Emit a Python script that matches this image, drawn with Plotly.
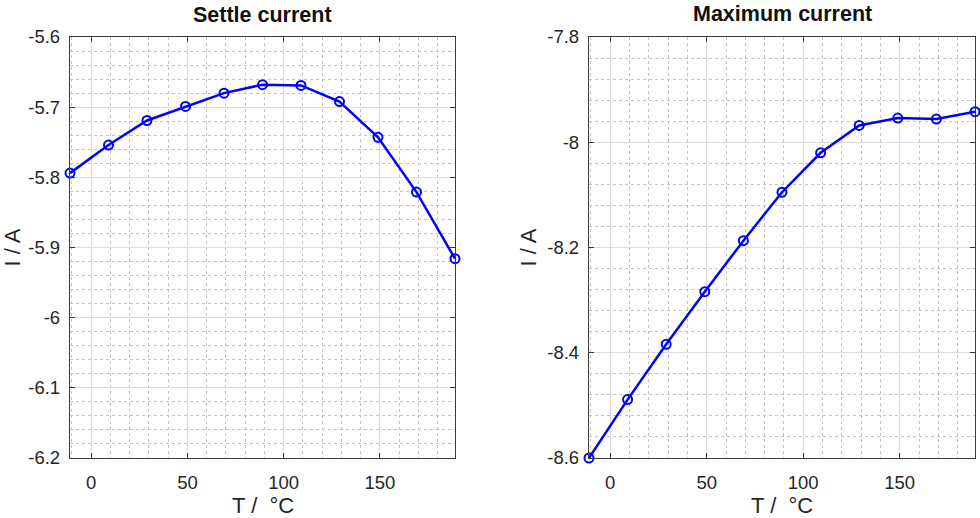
import plotly.graph_objects as go

# Temperature sweep (°C)
temperature = [-11, 9, 29, 49, 69, 89, 109, 129, 149, 169, 189]

# Currents in A
settle_current = [-5.794, -5.754, -5.719, -5.699, -5.680, -5.668, -5.669, -5.692, -5.743, -5.821, -5.916]
maximum_current = [-8.600, -8.489, -8.384, -8.284, -8.187, -8.095, -8.020, -7.968, -7.954, -7.956, -7.942]

x_ticks = [0, 50, 100, 150]
settle_ticks = [-5.6, -5.7, -5.8, -5.9, -6.0, -6.1, -6.2]
settle_labels = ["-5.6", "-5.7", "-5.8", "-5.9", "-6", "-6.1", "-6.2"]
max_ticks = [-7.8, -8.0, -8.2, -8.4, -8.6]
max_labels = ["-7.8", "-8", "-8.2", "-8.4", "-8.6"]

W, H = 980, 518
FONT = "Liberation Sans, Arial, sans-serif"
TXT = "#262626"
BLUE = "#0000ff"

LEFT_BOX = (70, 455)
RIGHT_BOX = (589, 975)
TOP, BOTTOM = 37, 458


def dom_x(box):
    return [box[0] / W, box[1] / W]


def dom_y(top, bottom):
    return [(H - bottom) / H, (H - top) / H]


fig = go.Figure()
for ys, xa, ya in [(settle_current, "x", "y"), (maximum_current, "x2", "y2")]:
    fig.add_trace(go.Scatter(
        x=temperature, y=ys, xaxis=xa, yaxis=ya, mode="lines+markers",
        line=dict(color=BLUE, width=2.5),
        marker=dict(symbol="circle-open", size=9, color=BLUE, line=dict(width=2, color=BLUE)),
        cliponaxis=False, showlegend=False,
    ))

common = dict(
    automargin=False,
    showline=True, linecolor="#3a3a3a", linewidth=1.3, mirror="allticks",
    ticks="inside", ticklen=5, tickcolor="#3a3a3a", tickwidth=1,
    showgrid=True, gridcolor="#dcdcdc", gridwidth=1, zeroline=False,
    tickfont=dict(family=FONT, size=18.5, color=TXT),
    title_font=dict(family=FONT, size=22, color=TXT),
)

xcommon = dict(common, range=[-11, 189], tickvals=x_ticks, ticktext=[str(v) for v in x_ticks],
               ticklabelstandoff=8,
               minor=dict(dtick=10, tick0=0, showgrid=True, griddash="dot", gridcolor="#c4c4c4", gridwidth=1))

ycommon = dict(common, ticklabelstandoff=5, title_text="I / A", title_standoff=4)


def label(text, cx, cy, size, color, bold=False):
    return dict(text=f"<b>{text}</b>" if bold else text, x=cx / W, y=(H - cy) / H,
                xref="paper", yref="paper", xanchor="center", yanchor="middle",
                showarrow=False, font=dict(family=FONT, size=size, color=color))


fig.update_layout(
    width=W, height=H, margin=dict(l=0, r=0, t=0, b=0),
    paper_bgcolor="white", plot_bgcolor="white",
    xaxis=dict(xcommon, domain=dom_x(LEFT_BOX), anchor="y"),
    yaxis=dict(ycommon, domain=dom_y(TOP, BOTTOM), anchor="x", range=[-6.2, -5.6],
               tickvals=settle_ticks, ticktext=settle_labels,
               minor=dict(dtick=0.02, tick0=-6.2, showgrid=True, griddash="dot", gridcolor="#c4c4c4", gridwidth=1)),
    xaxis2=dict(xcommon, domain=dom_x(RIGHT_BOX), anchor="y2"),
    yaxis2=dict(ycommon, domain=dom_y(TOP, BOTTOM), anchor="x2", range=[-8.6, -7.8],
                tickvals=max_ticks, ticktext=max_labels,
                minor=dict(dtick=0.04, tick0=-8.6, showgrid=True, griddash="dot", gridcolor="#c4c4c4", gridwidth=1)),
    annotations=[
        label("Settle current", 262, 15, 21.5, "#111111", bold=True),
        label("Maximum current", 782, 14, 21.5, "#111111", bold=True),
        label("T /  °C", sum(LEFT_BOX) / 2, 505, 22, TXT),
        label("T /  °C", sum(RIGHT_BOX) / 2, 505, 22, TXT),
    ],
)

fig.write_html("out.html")
